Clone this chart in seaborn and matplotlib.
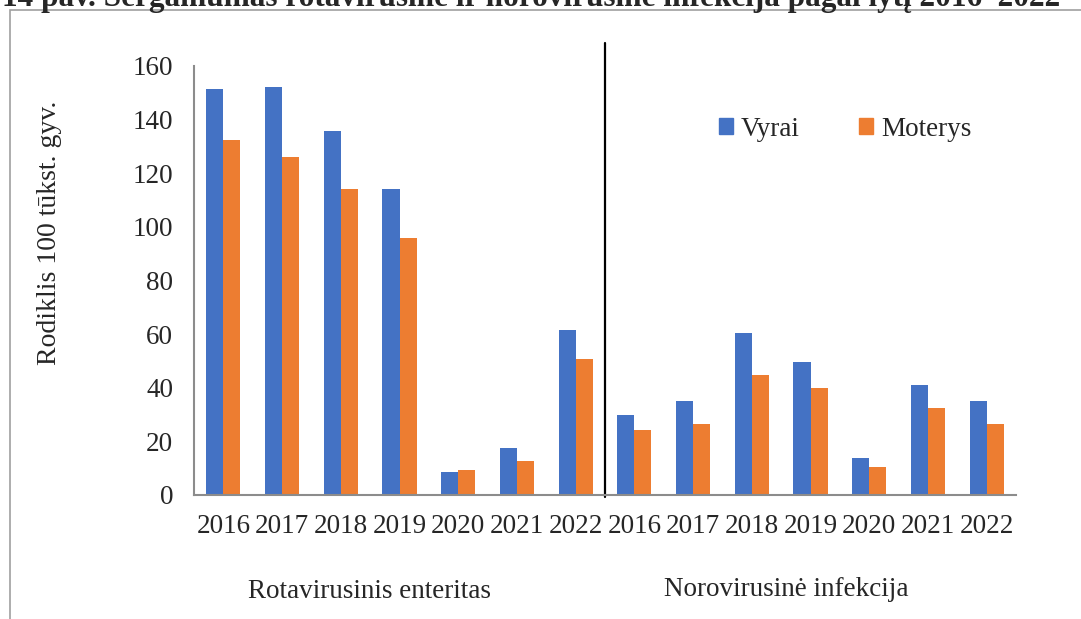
import matplotlib
matplotlib.use("Agg")
import matplotlib.pyplot as plt
import matplotlib.patches as mpatches
import matplotlib.transforms as mtransforms
from matplotlib.lines import Line2D
import seaborn as sns
import pandas as pd

# ---- data ----
years = ["2016", "2017", "2018", "2019", "2020", "2021", "2022"]
groups = ["Rotavirusinis enteritas", "Norovirusinė infekcija"]
series_names = ["Vyrai", "Moterys"]
rota_vyrai = [151.4, 152.0, 135.8, 114.1, 8.7, 17.5, 61.6]
rota_moterys = [132.3, 126.1, 114.2, 95.9, 9.4, 12.6, 50.7]
noro_vyrai = [29.9, 35.0, 60.3, 49.6, 13.9, 41.0, 35.1]
noro_moterys = [24.3, 26.6, 44.9, 39.8, 10.6, 32.3, 26.6]
y_ticks = [0, 20, 40, 60, 80, 100, 120, 140, 160]
y_label = "Rodiklis 100 tūkst. gyv."
title = "14 pav. Sergamumas rotavirusine ir norovirusine infekcija pagal lytį 2016–2022"
colors = ["#4472C4", "#ED7D31"]

rows = []
for g, vy, mo in [(groups[0], rota_vyrai, rota_moterys), (groups[1], noro_vyrai, noro_moterys)]:
    for yr, a, b in zip(years, vy, mo):
        key = f"{g}|{yr}"
        rows.append({"cat": key, "year": yr, "sex": series_names[0], "value": a})
        rows.append({"cat": key, "year": yr, "sex": series_names[1], "value": b})
df = pd.DataFrame(rows)
order = [f"{g}|{yr}" for g in groups for yr in years]

sns.set_style("white")
plt.rcParams["font.family"] = ["Liberation Serif", "DejaVu Serif"]

fig = plt.figure(figsize=(10.81, 6.19), dpi=100)
W, H = 1081, 619
ax = fig.add_axes([194 / W, 1 - 495 / H, (1016 - 194) / W, (495 - 66) / H])

sns.barplot(data=df, x="cat", y="value", hue="sex", order=order,
            hue_order=series_names, palette=colors, width=0.58, saturation=1,
            linewidth=0, errorbar=None, ax=ax, legend=False)

ax.set_xlim(-0.5, len(order) - 0.5)
ax.set_ylim(0, 160)
ax.set_yticks(y_ticks)
ax.set_yticklabels([str(t) for t in y_ticks], fontsize=19.5)
ax.set_xticks(range(len(order)))
ax.set_xticklabels([o.split("|")[1] for o in order], fontsize=19.5)
ax.tick_params(axis="y", length=0, pad=15)
ax.tick_params(axis="x", length=0, pad=14)
ax.set_xlabel("")
ax.set_ylabel("")
for s in ["top", "right"]:
    ax.spines[s].set_visible(False)
for s in ["left", "bottom"]:
    ax.spines[s].set_color("#8C8C8C")
    ax.spines[s].set_linewidth(1.5)

# divider between the two groups
trans = mtransforms.blended_transform_factory(ax.transData, ax.transAxes)
ax.add_line(Line2D([6.5, 6.5], [-0.005, (495 - 43) / (495 - 66)], transform=trans,
                   color="black", linewidth=1.6, clip_on=False))

# legend
handles = [mpatches.Patch(color=c, label=n) for c, n in zip(colors, series_names)]
fig.legend(handles=handles, loc="center left", bbox_to_anchor=(719 / W, 1 - 129 / H),
           ncol=2, frameon=False, fontsize=19.5, handlelength=0.5, handleheight=0.5,
           handletextpad=0.3, columnspacing=2.2, borderpad=0, borderaxespad=0)

# y label
fig.text(50 / W, 1 - 233 / H, y_label, rotation=90, fontsize=20, ha="center", va="center")

# group labels
fig.text(369 / W, 1 - 592 / H, groups[0], fontsize=19.5, ha="center", va="center")
fig.text(786 / W, 1 - 590 / H, groups[1], fontsize=19.5, ha="center", va="center")

# clipped caption at the top
fig.text(2 / W, 1 - 6 / H, title, fontsize=22.5, fontweight="bold", ha="left", va="baseline")

# outer frame
fig.patches.append(mpatches.Rectangle((10 / W, -0.05), 1.1, 1 - 9.5 / H + 0.05,
                                      transform=fig.transFigure, fill=False,
                                      edgecolor="#A0A0A0", linewidth=1.2))

fig.savefig("out.png", dpi=100)
